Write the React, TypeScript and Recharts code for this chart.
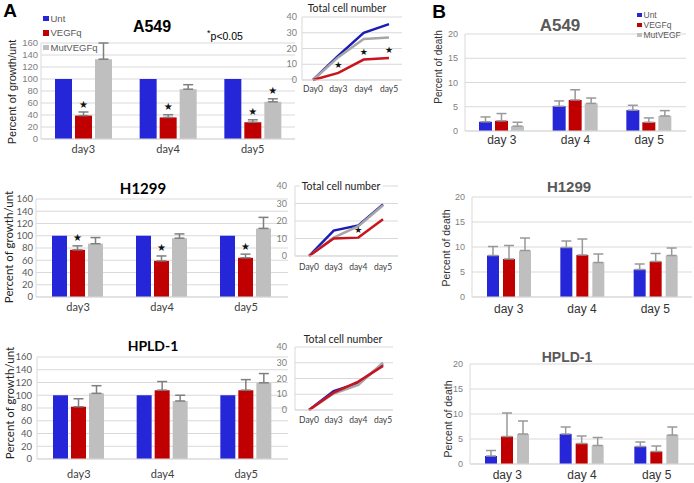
import { BarChart, Bar, XAxis, YAxis, CartesianGrid, ErrorBar, LabelList, LineChart, Line } from 'recharts'

const DAYS = ['day3', 'day4', 'day5']
const DAYS_B = ['day 3', 'day 4', 'day 5']
const LINE_DAYS = ['Day0', 'day3', 'day4', 'day5']

// panel A: percent of growth / untreated
const a549Unt = [100, 100, 100]
const a549Veg = [39, 36, 28]
const a549VegErr = [6, 4.5, 4]
const a549Mut = [133, 83, 62]
const a549MutErr = [27, 7.5, 5]
const a549VegSig = [1, 1, 1]
const a549MutSig = [0, 0, 1]

const h1299Unt = [100, 100, 100]
const h1299Veg = [77, 59, 64]
const h1299VegErr = [6.5, 8, 6]
const h1299Mut = [87, 96, 112]
const h1299MutErr = [10, 7, 18]
const h1299VegSig = [1, 1, 1]
const h1299MutSig = [0, 0, 0]

const hpldUnt = [100, 100, 100]
const hpldVeg = [82, 108, 108]
const hpldVegErr = [12.5, 13.5, 16.5]
const hpldMut = [103, 91, 119.5]
const hpldMutErr = [12, 9, 14.5]
const hpldVegSig = [0, 0, 0]
const hpldMutSig = [0, 0, 0]

// total cell number
const a549LineUnt = [0, 15.5, 30, 35.5]
const a549LineVeg = [0, 4.5, 13, 14]
const a549LineMut = [0, 14.5, 26, 27]
const a549LineSig = [0, 1, 1, 1]

const h1299LineUnt = [0, 14.5, 17.5, 29.5]
const h1299LineVeg = [0, 10, 10.5, 21]
const h1299LineMut = [0, 10.5, 17, 29]
const h1299LineSig = [0, 0, 1, 0]

const hpldLineUnt = [0, 12, 17, 29]
const hpldLineVeg = [0, 11, 18, 28]
const hpldLineMut = [0, 10.5, 16, 30]
const hpldLineSig = [0, 0, 0, 0]

// panel B: percent of death
const a549DUnt = [1.9, 5.1, 4.3]
const a549DUntErr = [1.0, 1.1, 1.0]
const a549DVeg = [2.1, 6.4, 1.8]
const a549DVegErr = [1.5, 2.1, 0.9]
const a549DMut = [1.0, 5.7, 3.1]
const a549DMutErr = [0.8, 1.1, 1.1]

const h1299DUnt = [8.3, 9.9, 5.5]
const h1299DUntErr = [1.8, 1.3, 1.1]
const h1299DVeg = [7.6, 8.4, 7.1]
const h1299DVegErr = [2.7, 3.2, 1.6]
const h1299DMut = [9.3, 6.9, 8.3]
const h1299DMutErr = [2.5, 1.7, 1.5]

const hpldDUnt = [1.6, 6.0, 3.5]
const hpldDUntErr = [1.1, 1.4, 0.9]
const hpldDVeg = [5.5, 4.1, 2.5]
const hpldDVegErr = [4.7, 1.5, 1.1]
const hpldDMut = [6.0, 3.7, 5.8]
const hpldDMutErr = [2.6, 1.6, 1.6]

const BAR = { unt: '#2626d9', veg: '#c00000', mut: '#bfbfbf' }
const LINE = { unt: '#1c1cb4', veg: '#c8141e', mut: '#a6a6a6' }
const GRID = '#d9d9d9'
const ARIAL = '"Liberation Sans", Arial, sans-serif'
const CALIBRI = 'Lato, "Open Sans", sans-serif'

const growthRows = (unt: number[], veg: number[], vegErr: number[], mut: number[], mutErr: number[], vegSig: number[], mutSig: number[]) =>
  DAYS.map((day, i) => ({
    day,
    unt: unt[i],
    veg: veg[i],
    mut: mut[i],
    vegErr: [0, vegErr[i]],
    mutErr: [0, mutErr[i]],
    vegStar: vegSig[i] ? vegErr[i] / veg[i] : null,
    mutStar: mutSig[i] ? mutErr[i] / mut[i] : null,
  }))

const deathRows = (unt: number[], untErr: number[], veg: number[], vegErr: number[], mut: number[], mutErr: number[]) =>
  DAYS_B.map((day, i) => ({
    day,
    unt: unt[i],
    veg: veg[i],
    mut: mut[i],
    untErr: [0, untErr[i]],
    vegErr: [0, vegErr[i]],
    mutErr: [0, mutErr[i]],
  }))

const lineRows = (unt: number[], veg: number[], mut: number[], sig: number[]) =>
  LINE_DAYS.map((day, i) => ({ day, unt: unt[i], veg: veg[i], mut: mut[i], vegStar: sig[i] ? 1 : null }))

// star sits above the error bar; value is err/value ratio
const barStar = (p: any) => {
  if (p.value == null || p.value === '') return null
  const vb = p.viewBox ?? {}
  const x = p.x ?? vb.x
  const y = p.y ?? vb.y
  const w = p.width ?? vb.width
  const h = p.height ?? vb.height
  const cy = y - Number(p.value) * h - 8
  return (
    <text x={x + w / 2} y={cy} textAnchor="middle" dominantBaseline="central" fontSize={10} fill="#111" fontFamily="DejaVu Sans">
      ★
    </text>
  )
}

const lineStar = (p: any) => {
  if (!p.value) return null
  const vb = p.viewBox ?? {}
  const x = p.x ?? vb.x
  const y = p.y ?? vb.y
  return (
    <text x={x} y={y - 8} textAnchor="middle" dominantBaseline="central" fontSize={9} fill="#111" fontFamily="DejaVu Sans">
      ★
    </text>
  )
}

function Txt({ x, y, children, size = 12, weight = 400, color = '#000', family = ARIAL, rotate = false, bg }: any) {
  return (
    <div
      style={{
        position: 'absolute',
        left: x,
        top: y,
        transform: `translate(-50%, -50%)${rotate ? ' rotate(-90deg)' : ''}`,
        whiteSpace: 'nowrap',
        fontSize: size,
        fontWeight: weight,
        color,
        fontFamily: family,
        lineHeight: 1,
        background: bg,
        padding: bg ? '0 2px' : 0,
      }}
    >
      {children}
    </div>
  )
}

function GrowthBars({ data, left, top, width, height, mTop, mRight, yWidth, xHeight, yMargin, xMargin, tickFamily, tickColor, gap }: any) {
  return (
    <div style={{ position: 'absolute', left, top }}>
      <BarChart width={width} height={height} data={data} margin={{ top: mTop, right: mRight, left: 0, bottom: 0 }} barCategoryGap={gap} barGap={3}>
        <CartesianGrid vertical={false} stroke={GRID} />
        <XAxis
          dataKey="day"
          height={xHeight}
          axisLine={{ stroke: GRID }}
          tickLine={false}
          tickSize={0}
          tickMargin={xMargin}
          interval={0}
          tick={{ fontSize: 11, fill: '#404040', fontFamily: CALIBRI }}
        />
        <YAxis
          width={yWidth}
          domain={[0, 160]}
          ticks={[0, 20, 40, 60, 80, 100, 120, 140, 160]}
          interval={0}
          axisLine={{ stroke: GRID }}
          tickLine={false}
          tickSize={0}
          tickMargin={yMargin}
          tick={{ fontSize: 9.5, fill: tickColor, fontFamily: tickFamily }}
        />
        <Bar dataKey="unt" fill={BAR.unt} isAnimationActive={false} />
        <Bar dataKey="veg" fill={BAR.veg} isAnimationActive={false}>
          <ErrorBar dataKey="vegErr" width={5} stroke="#7f7f7f" direction="y" />
          <LabelList dataKey="vegStar" content={barStar} />
        </Bar>
        <Bar dataKey="mut" fill={BAR.mut} isAnimationActive={false}>
          <ErrorBar dataKey="mutErr" width={5} stroke="#7f7f7f" direction="y" />
          <LabelList dataKey="mutStar" content={barStar} />
        </Bar>
      </BarChart>
    </div>
  )
}

function DeathBars({ data, top, height, mTop, mRight, yWidth, xHeight, xMargin, gap, barGap }: any) {
  return (
    <div style={{ position: 'absolute', left: 420, top }}>
      <BarChart width={274} height={height} data={data} margin={{ top: mTop, right: mRight, left: 0, bottom: 0 }} barCategoryGap={gap} barGap={barGap}>
        <CartesianGrid vertical={false} stroke={GRID} />
        <XAxis
          dataKey="day"
          height={xHeight}
          axisLine={{ stroke: GRID }}
          tickLine={false}
          tickSize={0}
          tickMargin={xMargin}
          interval={0}
          tick={{ fontSize: 12, fill: '#333', fontFamily: ARIAL }}
        />
        <YAxis
          width={yWidth}
          domain={[0, 20]}
          ticks={[0, 5, 10, 15, 20]}
          interval={0}
          axisLine={{ stroke: GRID }}
          tickLine={false}
          tickSize={0}
          tickMargin={7}
          tick={{ fontSize: 9, fill: '#808080', fontFamily: ARIAL }}
        />
        <Bar dataKey="unt" fill={BAR.unt} isAnimationActive={false}>
          <ErrorBar dataKey="untErr" width={5} stroke="#999" direction="y" />
        </Bar>
        <Bar dataKey="veg" fill={BAR.veg} isAnimationActive={false}>
          <ErrorBar dataKey="vegErr" width={5} stroke="#999" direction="y" />
        </Bar>
        <Bar dataKey="mut" fill={BAR.mut} isAnimationActive={false}>
          <ErrorBar dataKey="mutErr" width={5} stroke="#999" direction="y" />
        </Bar>
      </BarChart>
    </div>
  )
}

function CellLines({ data, left, top, width, height, mTop, mRight, yWidth, xHeight, yMargin, xMargin, pad }: any) {
  return (
    <div style={{ position: 'absolute', left, top }}>
      <LineChart width={width} height={height} data={data} margin={{ top: mTop, right: mRight, left: 0, bottom: 0 }}>
        <CartesianGrid vertical={false} stroke={GRID} />
        <XAxis
          dataKey="day"
          height={xHeight}
          padding={pad}
          axisLine={{ stroke: GRID }}
          tickLine={false}
          tickSize={0}
          tickMargin={xMargin}
          interval={0}
          tick={{ fontSize: 8.5, fill: '#404040', fontFamily: CALIBRI }}
        />
        <YAxis
          width={yWidth}
          domain={[0, 40]}
          ticks={[0, 10, 20, 30, 40]}
          interval={0}
          axisLine={{ stroke: GRID }}
          tickLine={false}
          tickSize={0}
          tickMargin={yMargin}
          tick={{ fontSize: 9, fill: '#808080', fontFamily: CALIBRI }}
        />
        <Line type="linear" dataKey="unt" stroke={LINE.unt} strokeWidth={2.5} dot={false} isAnimationActive={false} />
        <Line type="linear" dataKey="mut" stroke={LINE.mut} strokeWidth={2.5} dot={false} isAnimationActive={false} />
        <Line type="linear" dataKey="veg" stroke={LINE.veg} strokeWidth={2.5} dot={false} isAnimationActive={false}>
          <LabelList dataKey="vegStar" content={lineStar} />
        </Line>
      </LineChart>
    </div>
  )
}

function Swatch({ x, y, size, color, label, fontSize }: any) {
  return (
    <>
      <div style={{ position: 'absolute', left: x, top: y - size / 2, width: size, height: size, background: color }} />
      <div
        style={{
          position: 'absolute',
          left: x + size + 2,
          top: y,
          transform: 'translateY(-50%)',
          fontSize,
          lineHeight: 1,
          color: '#595959',
          fontFamily: ARIAL,
          whiteSpace: 'nowrap',
        }}
      >
        {label}
      </div>
    </>
  )
}

export default function App() {
  const a549 = growthRows(a549Unt, a549Veg, a549VegErr, a549Mut, a549MutErr, a549VegSig, a549MutSig)
  const h1299 = growthRows(h1299Unt, h1299Veg, h1299VegErr, h1299Mut, h1299MutErr, h1299VegSig, h1299MutSig)
  const hpld = growthRows(hpldUnt, hpldVeg, hpldVegErr, hpldMut, hpldMutErr, hpldVegSig, hpldMutSig)

  const a549Line = lineRows(a549LineUnt, a549LineVeg, a549LineMut, a549LineSig)
  const h1299Line = lineRows(h1299LineUnt, h1299LineVeg, h1299LineMut, h1299LineSig)
  const hpldLine = lineRows(hpldLineUnt, hpldLineVeg, hpldLineMut, hpldLineSig)

  const a549D = deathRows(a549DUnt, a549DUntErr, a549DVeg, a549DVegErr, a549DMut, a549DMutErr)
  const h1299D = deathRows(h1299DUnt, h1299DUntErr, h1299DVeg, h1299DVegErr, h1299DMut, h1299DMutErr)
  const hpldD = deathRows(hpldDUnt, hpldDUntErr, hpldDVeg, hpldDVegErr, hpldDMut, hpldDMutErr)

  return (
    <div style={{ position: 'absolute', left: 0, top: 0, width: 694, height: 483, background: '#fff', overflow: 'hidden' }}>
      {/* panel A bars */}
      <GrowthBars data={a549} left={0} top={0} width={300} height={160} mTop={43} mRight={5} yWidth={41} xHeight={21} yMargin={3} xMargin={6} tickFamily={ARIAL} tickColor="#808080" gap={14} />
      <GrowthBars data={h1299} left={0} top={150} width={300} height={165} mTop={49} mRight={12} yWidth={36} xHeight={18} yMargin={3} xMargin={6} tickFamily={CALIBRI} tickColor="#595959" gap={16} />
      <GrowthBars data={hpld} left={0} top={320} width={300} height={163} mTop={37} mRight={12} yWidth={37} xHeight={24} yMargin={5} xMargin={11} tickFamily={CALIBRI} tickColor="#595959" gap={16} />

      {/* panel A total cell number */}
      <CellLines data={a549Line} left={270} top={0} width={140} height={100} mTop={17} mRight={8} yWidth={32} xHeight={20} yMargin={5} xMargin={6} pad={{ left: 11, right: 13 }} />
      <CellLines data={h1299Line} left={260} top={170} width={150} height={110} mTop={16} mRight={12} yWidth={35} xHeight={24} yMargin={8} xMargin={8} pad={{ left: 14, right: 15 }} />
      <CellLines data={hpldLine} left={260} top={330} width={140} height={100} mTop={17} mRight={7} yWidth={35} xHeight={20} yMargin={8} xMargin={7} pad={{ left: 14, right: 10 }} />

      {/* panel B */}
      <DeathBars data={a549D} top={0} height={150} mTop={34} mRight={8} yWidth={45} xHeight={19} xMargin={4} gap={14} barGap={3} />
      <DeathBars data={h1299D} top={160} height={160} mTop={37} mRight={2} yWidth={52} xHeight={23} xMargin={7} gap={15} barGap={4} />
      <DeathBars data={hpldD} top={320} height={163} mTop={44} mRight={0} yWidth={50} xHeight={19} xMargin={6} gap={15} barGap={4} />

      {/* panel letters */}
      <Txt x={10} y={10} size={19} weight={700}>A</Txt>
      <Txt x={439} y={11} size={19} weight={700}>B</Txt>

      {/* panel A titles and labels */}
      <Txt x={152} y={27} size={16} weight={700}>A549</Txt>
      <Txt x={143} y={188} size={15} weight={700} family={CALIBRI}>H1299</Txt>
      <Txt x={153} y={346} size={14} weight={700} family={CALIBRI}>HPLD-1</Txt>
      <Txt x={225} y={35} size={10.5}>
        <span style={{ fontSize: 9, verticalAlign: 'super' }}>*</span>p&lt;0.05
      </Txt>
      <Txt x={12} y={92} size={11} rotate color="#222">Percent of growth/unt</Txt>
      <Txt x={9} y={247} size={11.5} rotate color="#222" family={CALIBRI}>Percent of growth/unt</Txt>
      <Txt x={10} y={403} size={11.5} rotate color="#222" family={CALIBRI}>Percent of growth/unt</Txt>

      <Txt x={347} y={8} size={10.5} family={CALIBRI} color="#222" bg="#fff">Total cell number</Txt>
      <Txt x={341} y={186} size={10.5} family={CALIBRI} color="#222" bg="#fff">Total cell number</Txt>
      <Txt x={343} y={339} size={10.5} family={CALIBRI} color="#222" bg="#fff">Total cell number</Txt>

      <Swatch x={43} y={18.5} size={5.5} color={BAR.unt} label="Unt" fontSize={9.5} />
      <Swatch x={43} y={33} size={5.5} color={BAR.veg} label="VEGFq" fontSize={9.5} />
      <Swatch x={43} y={47.5} size={5.5} color={BAR.mut} label="MutVEGFq" fontSize={9.5} />

      {/* panel B titles and labels */}
      <Txt x={560} y={25} size={17} weight={700} color="#595959">A549</Txt>
      <Txt x={569} y={186} size={15} weight={700} color="#595959">H1299</Txt>
      <Txt x={567} y={357} size={14} weight={700} color="#595959">HPLD-1</Txt>
      <Txt x={439} y={67} size={10} rotate color="#333">Percent of death</Txt>
      <Txt x={446} y={248} size={10.5} rotate color="#333">Percent of death</Txt>
      <Txt x={448} y={419} size={10.5} rotate color="#333">Percent of death</Txt>

      <Swatch x={637} y={15} size={4.5} color={BAR.unt} label="Unt" fontSize={8.5} />
      <Swatch x={637} y={25} size={4.5} color={BAR.veg} label="VEGFq" fontSize={8.5} />
      <Swatch x={637} y={35} size={4.5} color={BAR.mut} label="MutVEGF" fontSize={8.5} />
    </div>
  )
}
